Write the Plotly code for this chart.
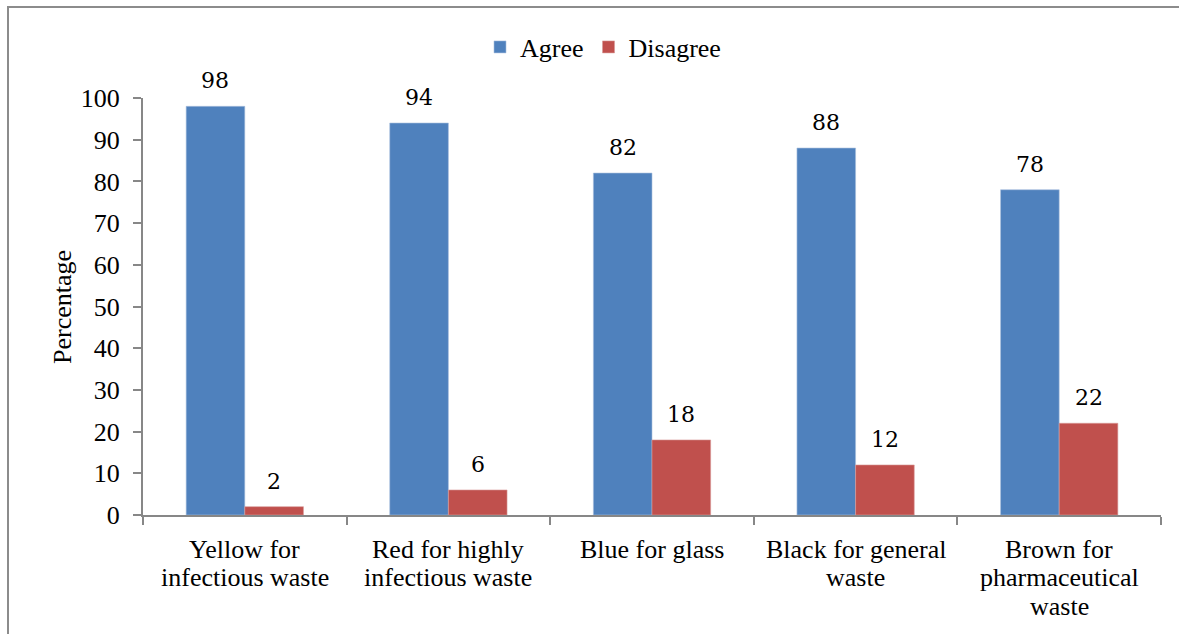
import plotly.graph_objects as go

category_lines = [
    ["Yellow for", "infectious waste"],
    ["Red for highly", "infectious waste"],
    ["Blue for glass"],
    ["Black for general", "waste"],
    ["Brown for", "pharmaceutical", "waste"],
]
categories = [" ".join(lines) for lines in category_lines]
agree = [98, 94, 82, 88, 78]
disagree = [2, 6, 18, 12, 22]

BLUE = "#4F81BD"
RED = "#C0504D"
AXIS = "#878787"
SERIF = "Liberation Serif"
BAR_W = 0.288

W, H = 1179, 634
ML, MR, MT, MB = 143, 18, 98, 119
pw, ph = W - ML - MR, H - MT - MB


def px_x(px):
    return (px - ML) / pw


def px_y(py):
    return (H - MB - py) / ph


fig = go.Figure()
fig.add_trace(go.Bar(name="Agree", x=categories, y=agree, width=BAR_W, offset=-BAR_W,
                     marker=dict(color=BLUE, line=dict(color="#A9C0DE", width=0.6))))
fig.add_trace(go.Bar(name="Disagree", x=categories, y=disagree, width=BAR_W, offset=0,
                     marker=dict(color=RED, line=dict(color="#D99A98", width=0.6))))

# value labels above each bar
for i, (a, d) in enumerate(zip(agree, disagree)):
    for xv, v in ((i - BAR_W / 2, a), (i + BAR_W / 2, d)):
        fig.add_annotation(x=xv, y=v, text=str(v), showarrow=False, xref="x", yref="y",
                           yanchor="bottom", yshift=11,
                           font=dict(family="DejaVu Serif", size=22, color="#000"))

# category labels, one line at a time for tight line spacing
for i, lines in enumerate(category_lines):
    for k, line in enumerate(lines):
        fig.add_annotation(x=i, y=px_y(549 + 28.6 * k), xref="x", yref="paper",
                           text=line, showarrow=False, xanchor="center", yanchor="middle",
                           font=dict(family=SERIF, size=26, color="#000"))

# y axis title
fig.add_annotation(text="Percentage", x=px_x(62), y=px_y(307),
                   xref="paper", yref="paper", xanchor="center", yanchor="middle",
                   showarrow=False, textangle=-90, font=dict(family=SERIF, size=26, color="#000"))

fig.update_layout(
    width=W, height=H,
    margin=dict(l=ML, r=MR, t=MT, b=MB),
    plot_bgcolor="white", paper_bgcolor="white",
    font=dict(family=SERIF, color="#000"),
    bargap=0.42,
    showlegend=True,
    legend=dict(orientation="h", x=px_x(480), xanchor="left", y=px_y(47), yanchor="middle",
                font=dict(family=SERIF, size=26, color="#000"),
                itemwidth=30, tracegroupgap=0, bgcolor="rgba(0,0,0,0)"),
    xaxis=dict(showgrid=False, showline=True, linecolor=AXIS, linewidth=2,
               ticks="outside", tickson="boundaries", ticklen=8, tickcolor=AXIS, tickwidth=2,
               showticklabels=False),
    yaxis=dict(range=[0, 100], dtick=10, showgrid=False, showline=True, linecolor=AXIS,
               linewidth=2, ticks="outside", ticklen=8, tickcolor=AXIS, tickwidth=2,
               ticklabelstandoff=8,
               tickfont=dict(family=SERIF, size=26, color="#000"), zeroline=False),
)

# outer frame
fig.add_shape(type="rect", xref="paper", yref="paper",
              x0=px_x(8), x1=px_x(1230), y0=px_y(700), y1=px_y(7),
              line=dict(color="#8C8C8C", width=2), layer="below")

fig.write_html("out.html")
